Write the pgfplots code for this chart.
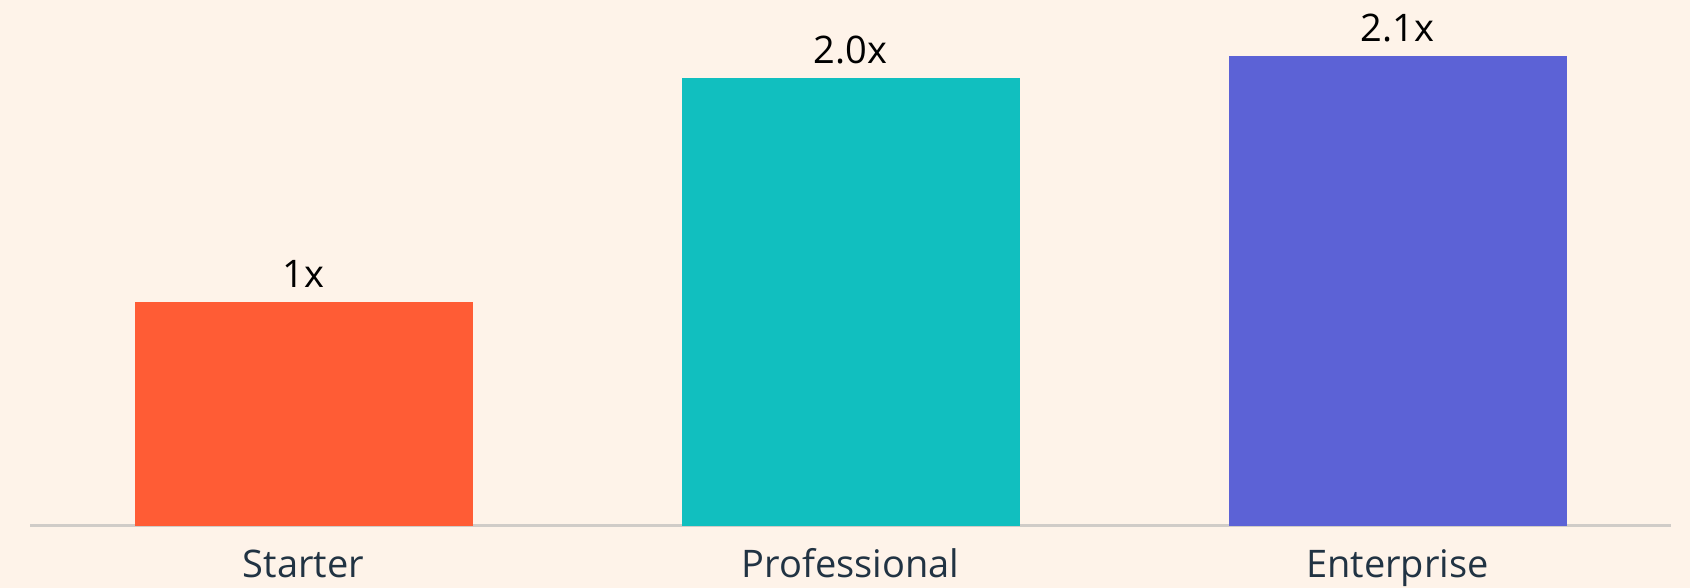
\documentclass[border=0pt]{standalone}
\usepackage{pgfplots}
\pgfplotsset{compat=1.18}
\usepackage{fontspec}
\setmainfont{Open Sans}
\usetikzlibrary{backgrounds}
\definecolor{bgcream}{RGB}{254,243,233}
\definecolor{starter}{RGB}{255,92,53}
\definecolor{pro}{RGB}{17,191,191}
\definecolor{ent}{RGB}{92,98,214}
\definecolor{baseline}{RGB}{208,204,200}
\definecolor{ticktext}{RGB}{33,51,67}

\begin{document}
\begin{tikzpicture}
\path[use as bounding box] (-15pt,-31pt) rectangle (830pt,263pt);
\begin{axis}[
    at={(0,0)}, anchor=south west,
    scale only axis,
    width=820.5pt, height=257.6pt,
    xmin=-0.5, xmax=2.5, ymin=0, ymax=2.3,
    ybar, bar width=169pt, bar shift=0pt,
    axis y line=none,
    axis x line*=bottom,
    axis line style={draw=baseline, line width=1.5pt, -},
    xtick={0,1,2},
    xticklabels={Starter,Professional,Enterprise},
    major tick length=0pt,
    xticklabel style={anchor=base, yshift=-26pt, text=ticktext,
                      font=\fontsize{19}{22}\selectfont},
    point meta=explicit symbolic,
    nodes near coords={\pgfplotspointmeta},
    every node near coord/.append style={anchor=base, yshift=7pt,
                      text=black, font=\fontsize{19}{22}\selectfont},
    clip=false,
]
\addplot[fill=starter, draw=none] coordinates {(0,1.0) [1x]};
\addplot[fill=pro, draw=none] coordinates {(1,2.0) [2.0x]};
\addplot[fill=ent, draw=none] coordinates {(2,2.1) [2.1x]};
\end{axis}
\begin{scope}[on background layer]
\fill[bgcream] (-15pt,-31pt) rectangle (830pt,263pt);
\end{scope}
\end{tikzpicture}
\end{document}
